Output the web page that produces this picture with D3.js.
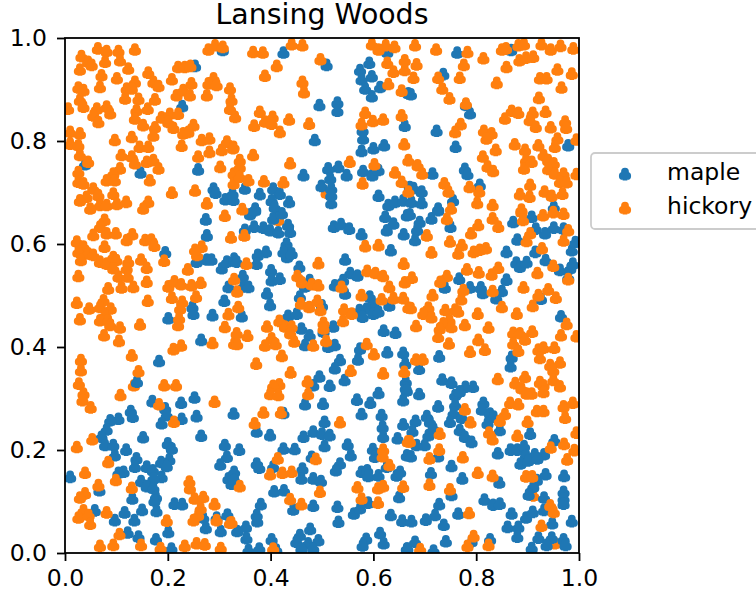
<!DOCTYPE html>
<html>
<head>
<meta charset="utf-8">
<script src="https://cdn.jsdelivr.net/npm/d3@7"></script>
<style>
html, body { margin: 0; padding: 0; background: #fff; }
svg { display: block; }
text { font-family: "DejaVu Sans", sans-serif; fill: #000; }
</style>
</head>
<body>
<svg id="chart" width="756" height="597"></svg>
<script>
const title = 'Lansing Woods';
const tickValues = [0, 0.2, 0.4, 0.6, 0.8, 1];
const seriesNames = ['maple', 'hickory'];
const seriesColors = ['#1f77b4', '#ff7f0e'];

// [x, y]
const maple = [
[.307,.977],[.253,.946],[.228,.868],[.039,.755],[.147,.739],[.259,.745],[.289,.708],[.293,.700],[.312,.687],[.328,.686],
[.425,.972],[.509,.948],[.495,.870],[.530,.875],[.530,.859],[.486,.802],[.592,.952],[.574,.938],[.597,.926],[.577,.920],
[.584,.902],[.613,.905],[.597,.887],[.627,.973],[.668,.893],[.661,.830],[.579,.821],[.580,.805],[.577,.781],[.600,.786],
[.621,.792],[.532,.750],[.512,.747],[.548,.734],[.580,.742],[.598,.734],[.610,.744],[.464,.734],[.516,.728],[.499,.713],
[.518,.708],[.518,.680],[.518,.695],[.610,.694],[.379,.697],[.405,.708],[.418,.698],[.436,.682],[.402,.685],[.408,.672],
[.350,.708],[.326,.698],[.370,.669],[.629,.676],[.642,.682],[.658,.685],[.671,.711],
[.763,.972],[.868,.977],[.736,.930],[.673,.891],[.780,.870],[.788,.854],[.723,.820],[.760,.789],[.979,.792],[.778,.746],
[.783,.736],[.715,.737],[.678,.709],[.694,.702],[.807,.715],[.755,.685],[.674,.682],[.694,.680],[.726,.669],[.951,.672],
[.274,.648],[.276,.617],[.195,.584],[.256,.566],[.276,.570],[.285,.570],[.305,.553],[.315,.566],[.329,.572],[.318,.517],
[.310,.490],[.248,.478],[.250,.465],[.201,.456],[.287,.462],[.265,.414],[.183,.373],[.140,.333],
[.360,.658],[.370,.666],[.350,.628],[.368,.634],[.386,.632],[.399,.627],[.415,.623],[.434,.637],[.438,.624],[.405,.650],
[.422,.660],[.523,.634],[.537,.639],[.553,.630],[.577,.619],[.634,.588],[.431,.601],[.431,.588],[.432,.575],[.425,.585],
[.441,.582],[.391,.585],[.375,.579],[.373,.562],[.334,.566],[.456,.556],[.401,.549],[.402,.530],[.418,.533],[.346,.538],
[.347,.518],[.357,.517],[.545,.570],[.545,.504],[.555,.544],[.569,.539],[.541,.530],[.525,.520],[.476,.530],[.467,.518],
[.393,.504],[.399,.482],[.457,.498],[.500,.481],[.344,.460],[.434,.461],[.451,.465],[.460,.436],[.476,.423],[.467,.404],
[.522,.440],[.503,.430],[.512,.401],[.525,.404],[.593,.498],[.600,.482],[.587,.475],[.573,.472],[.579,.459],[.600,.465],
[.610,.469],[.631,.481],[.620,.432],[.643,.428],[.574,.397],[.570,.376],[.627,.390],[.658,.389],[.662,.368],[.535,.375],
[.525,.359],[.544,.336],[.495,.343],[.483,.326],[.515,.325],[.663,.333],[.623,.653],[.639,.640],[.626,.627],[.659,.619],
[.665,.656],
[.671,.658],[.690,.643],[.685,.628],[.681,.608],[.713,.650],[.726,.666],[.750,.634],[.872,.643],[.908,.653],[.916,.630],
[.934,.621],[.951,.632],[.970,.630],[.880,.609],[.859,.585],[.915,.585],[.878,.564],[.885,.556],[.898,.565],[.935,.569],
[.963,.550],[.983,.553],[.988,.562],[.979,.535],[.986,.588],[.993,.604],[.767,.533],[.739,.516],[.788,.516],[.809,.516],
[.813,.505],[.850,.509],[.859,.531],[.839,.495],[.926,.494],[.965,.460],[.869,.381],[.867,.363],[.728,.382],[.689,.358],
[.734,.337],[.752,.331],[.779,.323],[.794,.323],[.663,.321],
[.252,.302],[.170,.295],[.226,.292],[.195,.281],[.198,.268],[.188,.252],[.227,.261],[.256,.266],[.128,.276],[.132,.265],
[.104,.261],[.088,.258],[.081,.240],[.071,.226],[.078,.210],[.094,.210],[.097,.190],[.119,.201],[.152,.225],[.265,.228],
[.200,.213],[.208,.203],[.311,.210],[.315,.187],[.302,.172],[.328,.271],[.139,.184],[.136,.168],[.203,.182],[.187,.177],
[.198,.169],[.159,.168],[.171,.161],[.114,.158],[.104,.156],[.188,.148],[.172,.145],[.148,.140],[.159,.130],[.172,.126],
[.177,.109],[.174,.102],[.131,.106],[.010,.148],[.067,.122],[.058,.083],[.213,.096],[.228,.095],[.178,.082],[.150,.084],
[.116,.079],[.097,.064],[.135,.064],[.122,.040],[.143,.032],[.177,.027],[.201,.041],[.207,.009],[.269,.069],[.274,.049],
[.295,.069],[.316,.075],[.303,.043],[.318,.145],[.327,.148],[.324,.135],
[.373,.236],[.399,.229],[.425,.272],[.467,.289],[.502,.290],[.568,.298],[.594,.292],[.610,.311],[.577,.270],[.616,.268],
[.618,.245],[.619,.226],[.658,.250],[.647,.223],[.665,.316],[.658,.297],[.505,.255],[.483,.236],[.500,.232],[.515,.229],
[.464,.226],[.505,.208],[.339,.201],[.425,.203],[.447,.202],[.550,.211],[.556,.190],[.599,.202],[.603,.187],[.480,.187],
[.373,.174],[.378,.166],[.405,.168],[.462,.164],[.460,.145],[.483,.145],[.498,.140],[.535,.174],[.527,.161],[.577,.158],
[.588,.161],[.590,.150],[.610,.151],[.626,.168],[.645,.151],[.652,.158],[.665,.190],[.329,.158],[.329,.142],[.407,.120],
[.426,.122],[.444,.085],[.483,.092],[.530,.090],[.532,.061],[.381,.095],[.373,.074],[.374,.062],[.352,.051],[.335,.043],
[.353,.029],[.357,.006],[.378,.009],[.402,.027],[.411,.007],[.562,.077],[.574,.087],[.590,.098],[.650,.109],[.634,.074],
[.656,.063],[.613,.039],[.620,.019],[.586,.028],[.579,.015],[.477,.047],[.457,.035],[.450,.022],[.473,.019],[.493,.025],
[.483,.009],[.460,.009],[.665,.009],
[.689,.309],[.759,.307],[.768,.314],[.726,.285],[.814,.292],[.811,.279],[.827,.271],[.834,.265],[.822,.252],[.846,.239],
[.905,.232],[.759,.288],[.756,.272],[.772,.263],[.749,.255],[.682,.257],[.676,.237],[.704,.266],[.710,.255],[.717,.242],
[.707,.229],[.700,.210],[.684,.210],[.673,.188],[.726,.188],[.768,.239],[.778,.226],[.791,.216],[.952,.219],[.867,.201],
[.880,.201],[.893,.208],[.897,.190],[.914,.192],[.932,.192],[.886,.174],[.901,.180],[.919,.184],[.842,.194],[.752,.169],
[.712,.155],[.773,.145],[.845,.137],[.935,.153],[.971,.150],[.918,.142],[.911,.129],[.902,.114],[.752,.113],[.728,.095],
[.720,.074],[.702,.065],[.737,.055],[.765,.077],[.816,.104],[.833,.094],[.846,.096],[.869,.077],[.897,.069],[.910,.080],
[.932,.108],[.932,.084],[.970,.119],[.970,.106],[.970,.096],[.948,.058],[.986,.062],[.861,.051],[.882,.051],[.880,.032],
[.921,.030],[.947,.030],[.937,.016],[.970,.027],[.974,.016],[.908,.010],[.741,.023],[.791,.023],[.827,.027],[.681,.022],
[.666,.009],[.717,.005],[.674,.062]
];

// the few hickory trees that sit under a maple in the picture
const hickoryBehind = [[.415,.647],[.509,.700],[.911,.112],[.953,.019],[.134,.326]];

const hickory = [
[.064,.980],[.081,.975],[.136,.978],[.104,.975],[.032,.965],[.045,.954],[.029,.939],[.052,.948],[.078,.954],[.107,.957],
[.123,.941],[.071,.928],[.068,.905],[.101,.922],[.162,.933],[.172,.915],[.182,.907],[.208,.920],[.220,.944],[.233,.944],
[.244,.946],[.279,.978],[.292,.986],[.307,.983],[.289,.922],[.279,.912],[.295,.909],[.321,.902],[.324,.880],[.321,.863],
[.331,.847],[.026,.904],[.036,.899],[.029,.880],[.036,.867],[.062,.863],[.081,.867],[.088,.854],[.055,.850],[.065,.837],
[.136,.915],[.120,.902],[.130,.902],[.117,.883],[.143,.882],[.175,.881],[.139,.860],[.161,.863],[.136,.844],[.152,.831],
[.175,.827],[.188,.846],[.204,.853],[.220,.853],[.201,.837],[.211,.826],[.172,.811],[.250,.831],[.230,.815],[.240,.818],
[.227,.791],[.217,.889],[.230,.899],[.246,.912],[.243,.889],[.276,.889],[.266,.802],[.281,.805],[.281,.779],[.259,.770],
[.302,.750],[.305,.783],[.315,.799],[.328,.789],[.006,.863],[.010,.818],[.010,.795],[.029,.815],[.026,.792],[.029,.773],
[.045,.760],[.097,.802],[.130,.808],[.145,.789],[.162,.789],[.110,.773],[.130,.770],[.136,.757],[.159,.760],[.172,.763],
[.182,.747],[.107,.747],[.094,.737],[.081,.724],[.026,.740],[.026,.721],[.036,.718],[.055,.708],[.042,.692],[.065,.695],
[.094,.698],[.029,.685],[.097,.724],[.165,.724],[.253,.704],[.208,.700],[.328,.737],[.328,.718],[.068,.676],[.081,.676],
[.101,.678],[.119,.682],[.049,.669],[.162,.682],[.152,.669],[.276,.679],
[.366,.973],[.385,.972],[.441,.988],[.462,.986],[.497,.959],[.412,.946],[.389,.927],[.462,.915],[.465,.895],[.597,.988],
[.610,.978],[.624,.986],[.641,.983],[.627,.952],[.639,.935],[.661,.957],[.661,.938],[.629,.911],[.655,.898],[.379,.857],
[.389,.838],[.404,.847],[.402,.834],[.368,.830],[.436,.842],[.418,.818],[.475,.834],[.584,.855],[.577,.833],[.599,.839],
[.619,.842],[.655,.850],[.660,.794],[.668,.763],[.554,.760],[.602,.755],[.642,.739],[.655,.721],[.668,.702],[.579,.718],
[.438,.757],[.387,.722],[.425,.720],[.366,.773],[.340,.763],[.327,.786],[.340,.750],[.340,.731],[.357,.724],
[.681,.986],[.722,.978],[.783,.973],[.814,.961],[.850,.978],[.858,.980],[.882,.986],[.893,.988],[.927,.988],[.945,.978],
[.964,.985],[.989,.980],[.884,.957],[.897,.962],[.911,.964],[.684,.949],[.678,.923],[.776,.948],[.859,.944],[.768,.923],
[.726,.923],[.840,.913],[.734,.902],[.748,.883],[.924,.922],[.937,.922],[.958,.939],[.986,.931],[.966,.904],[.922,.884],
[.780,.873],[.869,.859],[.882,.855],[.856,.844],[.910,.855],[.935,.857],[.904,.841],[.916,.828],[.945,.827],[.973,.838],
[.975,.826],[.770,.833],[.759,.818],[.815,.820],[.830,.815],[.820,.805],[.838,.783],[.875,.794],[.895,.783],[.921,.792],
[.958,.805],[.953,.789],[.995,.803],[.813,.770],[.822,.751],[.833,.742],[.897,.763],[.893,.747],[.908,.760],[.931,.773],
[.940,.763],[.951,.757],[.940,.746],[.953,.737],[.970,.737],[.963,.721],[.976,.720],[.995,.736],[.686,.753],[.695,.737],
[.738,.718],[.746,.702],[.787,.711],[.806,.702],[.885,.697],[.905,.715],[.904,.692],[.933,.702],[.947,.694],[.968,.698],
[.802,.680],[.832,.676],[.751,.669],[.888,.667],
[.311,.655],[.077,.647],[.068,.634],[.055,.618],[.081,.621],[.099,.621],[.131,.619],[.120,.608],[.023,.605],[.156,.608],
[.168,.609],[.174,.597],[.323,.613],[.077,.595],[.036,.595],[.026,.585],[.045,.582],[.055,.579],[.031,.569],[.068,.566],
[.081,.562],[.094,.575],[.100,.569],[.094,.553],[.123,.566],[.120,.553],[.148,.570],[.159,.554],[.104,.537],[.122,.537],
[.026,.538],[.084,.514],[.110,.516],[.133,.517],[.159,.527],[.239,.551],[.193,.568],[.257,.579],[.266,.595],[.253,.589],
[.201,.518],[.213,.528],[.226,.522],[.246,.520],[.264,.525],[.255,.498],[.208,.496],[.228,.488],[.224,.475],[.222,.456],
[.220,.443],[.023,.486],[.047,.475],[.075,.491],[.068,.478],[.089,.475],[.078,.462],[.068,.452],[.084,.452],[.088,.443],
[.107,.438],[.029,.454],[.076,.423],[.105,.412],[.161,.490],[.146,.444],[.211,.396],[.226,.403],[.287,.408],[.329,.407],
[.311,.439],[.318,.464],[.031,.375],[.031,.355],[.027,.329],[.130,.384],[.143,.353],[.193,.326],[.216,.326],
[.345,.668],[.349,.617],[.353,.562],[.329,.532],[.335,.508],[.337,.478],[.493,.563],[.584,.596],[.610,.598],[.659,.562],
[.661,.526],[.452,.538],[.461,.526],[.480,.522],[.493,.520],[.588,.548],[.604,.544],[.619,.538],[.538,.517],[.631,.517],
[.577,.501],[.639,.495],[.658,.495],[.616,.493],[.668,.477],[.459,.485],[.475,.478],[.491,.490],[.497,.472],[.543,.473],
[.558,.465],[.541,.451],[.417,.451],[.428,.440],[.441,.440],[.438,.427],[.446,.411],[.393,.440],[.402,.417],[.389,.403],
[.410,.406],[.334,.427],[.335,.406],[.355,.422],[.503,.447],[.503,.436],[.508,.412],[.483,.403],[.422,.383],[.372,.368],
[.439,.351],[.417,.328],[.405,.325],[.472,.333],[.556,.354],[.587,.406],[.601,.386],[.619,.349],[.660,.352],
[.888,.663],[.891,.647],[.930,.656],[.950,.662],[.970,.659],[.743,.649],[.804,.637],[.832,.650],[.843,.634],[.790,.621],
[.704,.617],[.749,.605],[.772,.598],[.713,.584],[.765,.582],[.795,.585],[.807,.589],[.819,.592],[.979,.627],[.905,.621],
[.898,.606],[.970,.607],[.928,.592],[.675,.535],[.743,.538],[.730,.527],[.782,.551],[.805,.545],[.830,.541],[.843,.554],
[.919,.544],[.950,.558],[.979,.532],[.892,.516],[.715,.501],[.775,.511],[.771,.493],[.832,.509],[.940,.512],[.921,.501],
[.955,.496],[.910,.480],[.850,.478],[.673,.476],[.707,.477],[.697,.465],[.713,.458],[.740,.472],[.759,.473],[.765,.469],
[.803,.465],[.879,.465],[.748,.452],[.736,.446],[.752,.439],[.729,.436],[.683,.441],[.778,.443],[.824,.438],[.976,.445],
[.726,.420],[.872,.428],[.885,.427],[.895,.415],[.909,.430],[.965,.423],[.995,.421],[.747,.407],[.804,.414],[.817,.395],
[.872,.407],[.882,.393],[.788,.391],[.921,.395],[.931,.399],[.952,.399],[.924,.379],[.683,.376],[.696,.376],[.842,.338],
[.876,.330],[.895,.342],[.924,.332],[.944,.365],[.963,.370],[.950,.355],[.950,.336],[.931,.326],[.963,.324],[.888,.320],
[.036,.310],[.034,.297],[.050,.283],[.108,.307],[.183,.289],[.212,.255],[.291,.294],[.023,.206],[.053,.221],[.084,.177],
[.039,.156],[.065,.132],[.099,.142],[.130,.127],[.039,.116],[.029,.108],[.036,.083],[.026,.069],[.046,.074],[.049,.057],
[.081,.079],[.106,.037],[.068,.014],[.094,.016],[.148,.016],[.186,.010],[.233,.014],[.256,.019],[.272,.017],[.303,.010],
[.242,.139],[.243,.126],[.252,.106],[.269,.109],[.291,.095],[.264,.087],[.259,.074],[.250,.064],[.198,.063],[.321,.059],
[.295,.064],
[.399,.309],[.415,.307],[.473,.309],[.386,.273],[.420,.273],[.369,.252],[.535,.254],[.619,.201],[.618,.188],[.488,.183],
[.414,.184],[.399,.153],[.423,.156],[.441,.158],[.340,.130],[.631,.171],[.324,.060],[.496,.119],[.438,.105],[.460,.095],
[.569,.128],[.577,.106],[.609,.098],[.609,.126],[.619,.130],[.658,.129],[.667,.217],[.405,.009],
[.866,.292],[.882,.289],[.918,.276],[.931,.276],[.970,.285],[.988,.292],[.973,.263],[.856,.270],[.846,.257],[.778,.279],
[.789,.254],[.900,.255],[.825,.234],[.832,.221],[.880,.228],[.995,.234],[.971,.212],[.945,.205],[.991,.200],[.977,.182],
[.671,.217],[.729,.232],[.728,.201],[.709,.184],[.774,.186],[.803,.156],[.832,.150],[.897,.149],[.909,.149],[.709,.133],
[.749,.124],[.786,.078],[.944,.093],[.951,.080],[.927,.053],[.795,.033],[.783,.014],[.824,.016],[.691,.008],
[.908,.310],[.931,.313],[.898,.310]
];

const x = d3.scaleLinear().domain([0, 1]).range([65, 579]);
const y = d3.scaleLinear().domain([0, 1]).range([553, 38]);

// club suit marker, fat lobes as in the original raster
const club = {
  draw(ctx) {
    const r = 3.9;
    ctx.moveTo(r, -2.3);
    ctx.arc(0, -2.3, r, 0, 2 * Math.PI);
    ctx.moveTo(-2.2 + r, 1.9);
    ctx.arc(-2.2, 1.9, r, 0, 2 * Math.PI);
    ctx.moveTo(2.2 + r, 1.9);
    ctx.arc(2.2, 1.9, r, 0, 2 * Math.PI);
    ctx.moveTo(-1.5, 0);
    ctx.lineTo(1.5, 0);
    ctx.lineTo(2.4, 6.4);
    ctx.lineTo(-2.4, 6.4);
    ctx.closePath();
  }
};
const marker = d3.symbol().type(club);

const svg = d3.select('#chart');

svg.append('clipPath').attr('id', 'plot-clip')
  .append('rect')
  .attr('x', x(0)).attr('y', y(1))
  .attr('width', x(1) - x(0)).attr('height', y(0) - y(1));

const plot = svg.append('g').attr('clip-path', 'url(#plot-clip)');

function drawPoints(points, color) {
  plot.append('g')
    .selectAll('path')
    .data(points)
    .enter()
    .append('path')
    .attr('d', marker)
    .attr('fill', color)
    .attr('transform', (d) => `translate(${x(d[0])},${y(d[1])})`);
}
drawPoints(hickoryBehind, seriesColors[1]);
drawPoints(maple, seriesColors[0]);
drawPoints(hickory, seriesColors[1]);

const fmt = d3.format('.1f');
const xAxis = d3.axisBottom(x).tickValues(tickValues).tickFormat(fmt).tickSize(8).tickPadding(8);
const yAxis = d3.axisLeft(y).tickValues(tickValues).tickFormat(fmt).tickSize(8).tickPadding(10);

svg.append('g').attr('transform', `translate(0,${y(0)})`).call(xAxis);
svg.append('g').attr('transform', `translate(${x(0)},0)`).call(yAxis);

svg.selectAll('.domain').remove();
svg.selectAll('.tick line').attr('stroke', '#000').attr('stroke-width', 1.8);
svg.selectAll('.tick text').attr('font-size', 23.5).attr('font-family', '"DejaVu Sans"').attr('fill', '#000');

// frame
svg.append('rect')
  .attr('x', x(0)).attr('y', y(1))
  .attr('width', x(1) - x(0)).attr('height', y(0) - y(1))
  .attr('fill', 'none').attr('stroke', '#000').attr('stroke-width', 1.8);

svg.append('text')
  .attr('x', (x(0) + x(1)) / 2).attr('y', 24)
  .attr('text-anchor', 'middle').attr('font-size', 28.4)
  .text(title);

// legend, runs off the right edge like the original
const legend = svg.append('g');
legend.append('rect')
  .attr('x', 591).attr('y', 153)
  .attr('width', 180).attr('height', 76).attr('rx', 4)
  .attr('fill', '#fff').attr('stroke', '#ccc').attr('stroke-width', 1.8);

seriesNames.forEach((name, i) => {
  const rowY = 174 + i * 34;
  legend.append('path')
    .attr('d', marker)
    .attr('fill', seriesColors[i])
    .attr('transform', `translate(625,${rowY})`);
  legend.append('text')
    .attr('x', 667).attr('y', rowY + 6)
    .attr('font-size', 23.5)
    .text(name);
});
</script>
</body>
</html>
